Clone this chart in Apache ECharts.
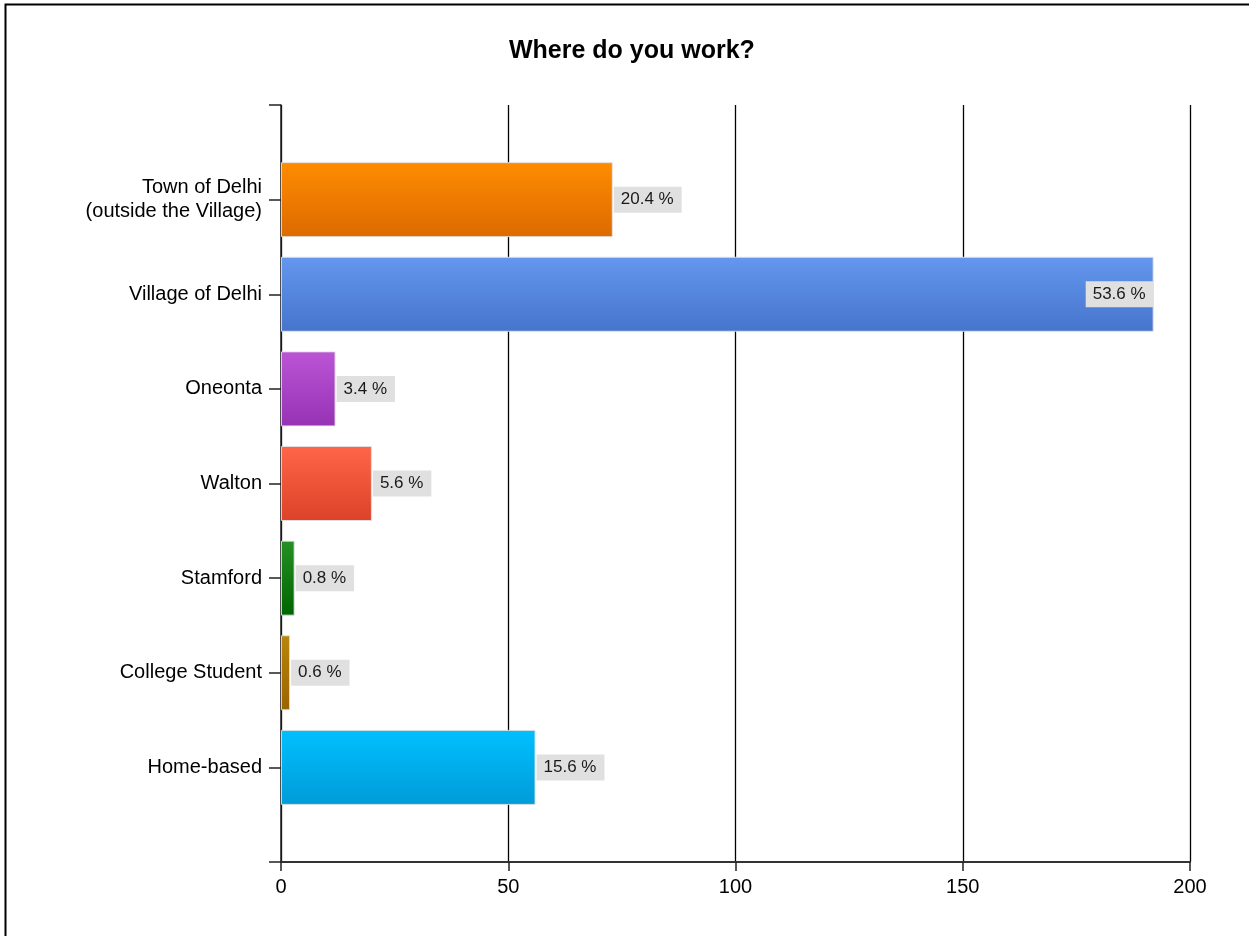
<!DOCTYPE html>
<html>
<head>
<meta charset="utf-8">
<title>Where do you work?</title>
<script src="https://cdn.jsdelivr.net/npm/echarts@6/dist/echarts.min.js"></script>
<style>
  html, body { margin: 0; padding: 0; background: #ffffff; }
  #chart { width: 1249px; height: 936px; }
</style>
</head>
<body>
<div id="chart"></div>
<script>
// Survey answers: number of respondents per place of work
const categories = [
  'Town of Delhi\n(outside the Village)',
  'Village of Delhi',
  'Oneonta',
  'Walton',
  'Stamford',
  'College Student',
  'Home-based'
];
const counts = [73, 192, 12, 20, 3, 2, 56];
const percents = ['20.4 %', '53.6 %', '3.4 %', '5.6 %', '0.8 %', '0.6 %', '15.6 %'];
const xTicks = [0, 50, 100, 150, 200];

// Top and bottom colour of each bar's vertical gradient
const barColors = [
  ['#ff8c00', '#dc6a00'],
  ['#6597ee', '#4574cc'],
  ['#bb55d6', '#9632b4'],
  ['#ff6548', '#dc4228'],
  ['#259025', '#006400'],
  ['#b8860b', '#9a6400'],
  ['#00c0ff', '#009bd8']
];

const FONT = '"Liberation Sans", Arial, sans-serif';

// The category axis is padded with an empty slot above and below the bars
const axisCats = [''].concat(categories, ['']);
const seriesData = [null].concat(counts.map(function (v, i) {
  const item = {
    value: v,
    itemStyle: {
      color: new echarts.graphic.LinearGradient(0, 0, 0, 1, [
        { offset: 0, color: barColors[i][0] },
        { offset: 1, color: barColors[i][1] }
      ])
    }
  };
  if (v > 180) {
    item.label = { position: 'insideRight', distance: 0 };
  }
  return item;
}), [null]);

const chart = echarts.init(document.getElementById('chart'), null, { renderer: 'canvas' });

chart.setOption({
  animation: false,
  backgroundColor: '#ffffff',
  title: {
    text: 'Where do you work?',
    left: 504,
    top: 34,
    textStyle: { fontFamily: FONT, fontSize: 25, fontWeight: 'bold', color: '#000000' }
  },
  graphic: [{
    type: 'rect',
    shape: { x: 5.5, y: 4.5, width: 1400, height: 1100 },
    style: { fill: 'none', stroke: '#000000', lineWidth: 2 },
    silent: true
  }],
  grid: { left: 281, right: 59, top: 105, bottom: 74, containLabel: false },
  xAxis: {
    type: 'value',
    min: xTicks[0],
    max: xTicks[xTicks.length - 1],
    interval: xTicks[1] - xTicks[0],
    axisLine: { show: true, onZero: false, lineStyle: { color: '#333333', width: 2 } },
    axisTick: { show: true, inside: false, length: 9, lineStyle: { color: '#222222', width: 1.5 } },
    axisLabel: { margin: 15, fontFamily: FONT, fontSize: 20, color: '#000000' },
    splitLine: { show: true, lineStyle: { color: '#000000', width: 1.3 } }
  },
  yAxis: {
    type: 'category',
    inverse: true,
    boundaryGap: false,
    data: axisCats,
    axisLine: { show: true, onZero: false, lineStyle: { color: '#222222', width: 1.5 } },
    axisTick: { show: true, inside: false, length: 12, interval: 0, lineStyle: { color: '#222222', width: 1.5 } },
    axisLabel: {
      interval: 0,
      margin: 19,
      fontFamily: FONT,
      fontSize: 20,
      lineHeight: 24,
      color: '#000000',
      align: 'right'
    },
    splitLine: { show: false }
  },
  series: [{
    type: 'bar',
    barWidth: 75,
    data: seriesData,
    itemStyle: { borderColor: 'rgba(225,225,225,0.9)', borderWidth: 1 },
    label: {
      show: true,
      position: 'right',
      distance: 1,
      formatter: function (p) { return percents[p.dataIndex - 1]; },
      fontFamily: FONT,
      fontSize: 17,
      color: '#1a1a1a',
      backgroundColor: '#e0e0e0',
      padding: [5, 8, 4, 7]
    }
  }]
});
</script>
</body>
</html>
